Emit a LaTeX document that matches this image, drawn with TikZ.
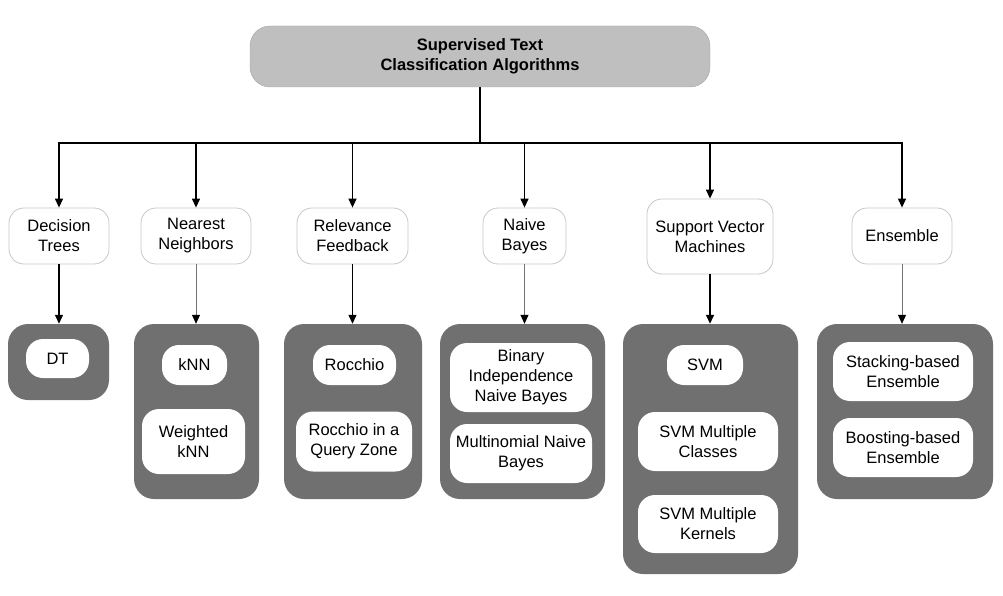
\documentclass[tikz,border=0pt]{standalone}
\usepackage{fontspec}
\setmainfont{Liberation Sans}
\usepackage{tikz}
\usetikzlibrary{shapes,arrows.meta,positioning}

\begin{document}
\begin{tikzpicture}[x=1pt,y=-1pt,
	font=\fontsize{16.5}{20}\selectfont,
	root/.style={rectangle, rounded corners=20pt, draw=black!35, fill=black!25, align=center, inner sep=0pt, font=\fontsize{16.5}{20}\selectfont\bfseries},
	cat/.style={rectangle, rounded corners=15pt, draw=black!22, line width=0.8pt, fill=white, align=center, inner sep=0pt},
	group/.style={rectangle, rounded corners=20pt, fill=black!56, inner sep=0pt},
	item/.style={rectangle, rounded corners=17pt, fill=white, align=center, inner sep=0pt},
	arr/.style={draw=black, line width=1.3pt, -{Triangle[length=9pt,width=8pt]}},
	thinarr/.style={draw=black!55, line width=0.8pt, -{Triangle[length=9pt,width=8pt,color=black]}}]
	\useasboundingbox (0,0) rectangle (1003,596);
	% top
	\node [root, minimum width=460pt, minimum height=61pt] (root) at (480,56.5) {Supervised Text\\Classification Algorithms};
	\coordinate (bus) at (480,143);
	% categories
	\node [cat, minimum width=100pt, minimum height=56pt] (dt) at (59,236) {Decision\\Trees};
	\node [cat, minimum width=110pt, minimum height=56pt] (nn) at (196,236) {Nearest\\Neighbors};
	\node [cat, minimum width=111pt, minimum height=56pt] (rf) at (352.5,236) {Relevance\\Feedback};
	\node [cat, minimum width=83pt, minimum height=56pt] (nb) at (524.5,236) {Naive\\Bayes};
	\node [cat, minimum width=126pt, minimum height=75pt] (svm) at (710,236.5) {Support Vector\\Machines};
	\node [cat, minimum width=100pt, minimum height=56pt] (ens) at (902,236) {Ensemble};
	% groups
	\node [group, minimum width=101pt, minimum height=76pt] (dtg) at (58.5,362) {};
	\node [group, minimum width=125pt, minimum height=175pt] (nng) at (196.5,411.5) {};
	\node [group, minimum width=138pt, minimum height=175pt] (rfg) at (353,411.5) {};
	\node [group, minimum width=165pt, minimum height=175pt] (nbg) at (522.5,411.5) {};
	\node [group, minimum width=175pt, minimum height=250pt] (svmg) at (710.5,449) {};
	\node [group, minimum width=176pt, minimum height=175pt] (ensg) at (905,411.5) {};
	% algorithms
	\node [item, minimum width=63pt, minimum height=39pt] (dtp) at (57.5,358.5) {DT};
	\node [item, minimum width=65pt, minimum height=40pt] (knn) at (194.5,365) {kNN};
	\node [item, minimum width=103pt, minimum height=65pt] (wknn) at (193.5,441.5) {Weighted\\kNN};
	\node [item, minimum width=83pt, minimum height=40pt] (roc) at (354.5,365) {Rocchio};
	\node [item, minimum width=116pt, minimum height=60pt] (rocq) at (354,441.5) {Rocchio in a\\Query Zone};
	\node [item, minimum width=142pt, minimum height=69pt] (bin) at (521,377.5) {Binary\\Independence\\Naive Bayes};
	\node [item, minimum width=142pt, minimum height=59pt] (mnb) at (521,453.5) {Multinomial Naive\\Bayes};
	\node [item, minimum width=76pt, minimum height=40pt] (svmp) at (705,365) {SVM};
	\node [item, minimum width=140pt, minimum height=59pt] (svmc) at (708,441.5) {SVM Multiple\\Classes};
	\node [item, minimum width=140pt, minimum height=58pt] (svmk) at (708,524) {SVM Multiple\\Kernels};
	\node [item, minimum width=140pt, minimum height=59pt] (stk) at (903,371.5) {Stacking-based\\Ensemble};
	\node [item, minimum width=140pt, minimum height=59pt] (bst) at (903,447.5) {Boosting-based\\Ensemble};
	% connectors
	\draw [line width=1.3pt] (root.south) -- (bus);
	\foreach \c in {dt,nn,rf,nb,svm,ens}
		\draw [arr] (bus) -| (\c.north);
	\draw [arr] (dt.south) -- (dt.south |- dtg.north);
	\draw [thinarr] (nn.south) -- (nn.south |- nng.north);
	\draw [arr] (rf.south) -- (rf.south |- rfg.north);
	\draw [thinarr] (nb.south) -- (nb.south |- nbg.north);
	\draw [arr] (svm.south) -- (svm.south |- svmg.north);
	\draw [thinarr] (ens.south) -- (ens.south |- ensg.north);
\end{tikzpicture}
\end{document}
